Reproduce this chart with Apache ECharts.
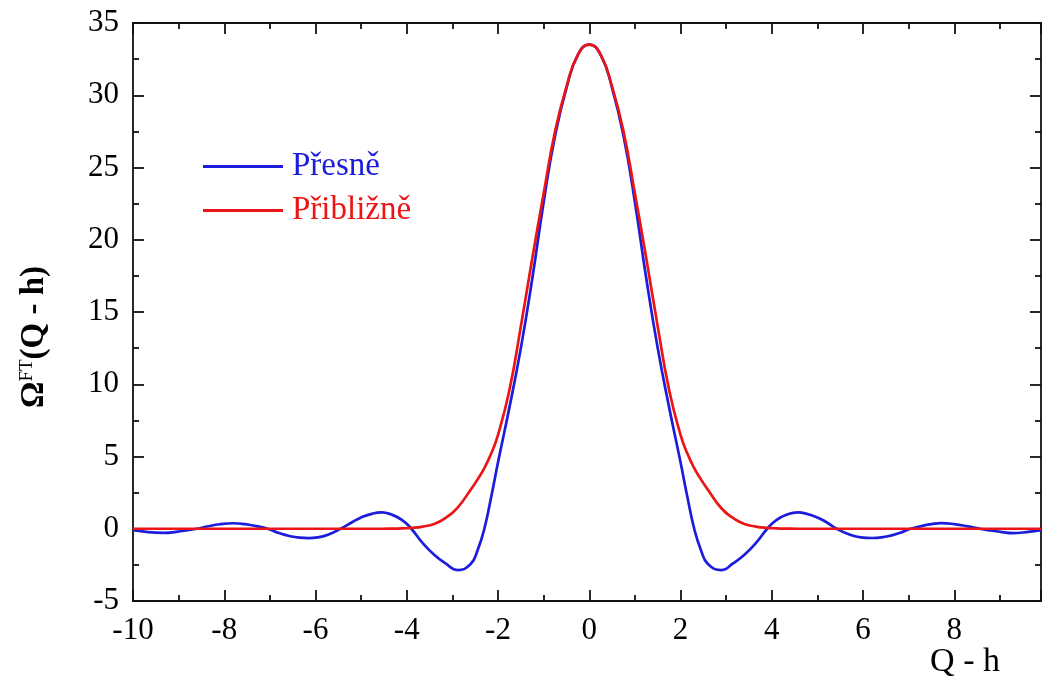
<!DOCTYPE html>
<html>
<head>
<meta charset="utf-8">
<script src="https://cdn.jsdelivr.net/npm/echarts@6/dist/echarts.min.js"></script>
<style>html,body{margin:0;padding:0;background:#fff}#c{width:1044px;height:682px}</style>
</head>
<body>
<div id="c"></div>
<script>
var xs = [-10, -9.75, -9.5, -9.3, -9.05, -8.8, -8.6, -8.35, -8.1, -7.8, -7.55, -7.3, -7.05, -6.8, -6.55, -6.35, -6.15, -5.95, -5.7, -5.45,
          -5.2, -5, -4.75, -4.55, -4.35, -4.1, -3.9, -3.65, -3.4, -3.15, -2.89, -2.6, -2.45, -2.3, -2.15, -2, -1.75, -1.5, -1.25, -1, -0.75, -0.5, -0.25, 0,
          0.25, 0.5, 0.75, 1, 1.25, 1.5, 1.75, 2, 2.15, 2.3, 2.45, 2.6, 2.9, 3.15, 3.4, 3.65, 3.9, 4.1, 4.35, 4.57, 4.75, 5, 5.2,
          5.42, 5.7, 5.95, 6.2, 6.4, 6.6, 6.8, 7.04, 7.3, 7.5, 7.72, 8, 8.3, 8.56, 8.8, 9.05, 9.28, 9.5, 9.75, 9.9];
var presne = [-0.1, -0.2, -0.27, -0.28, -0.21, -0.1, 0, 0.17, 0.31, 0.38, 0.32, 0.18, 0, -0.3, -0.52, -0.62, -0.65, -0.6, -0.38, 0,
              0.45, 0.78, 1.05, 1.13, 1.0, 0.6, 0, -1.0, -1.8, -2.4, -2.86, -2.44, -1.5, 0, 2.2, 4.6, 8.4, 12.5, 17.3, 22.6, 27.2, 30.5, 32.8, 33.5,
              32.8, 30.5, 27.2, 22.6, 17.3, 12.5, 8.4, 4.6, 2.2, 0, -1.5, -2.44, -2.86, -2.4, -1.8, -1.0, 0, 0.6, 1.0, 1.13, 1.05, 0.78, 0.45,
              0, -0.4, -0.6, -0.64, -0.6, -0.48, -0.3, 0, 0.2, 0.32, 0.39, 0.32, 0.16, 0, -0.12, -0.23, -0.3, -0.26, -0.16, -0.09];
var priblizne = [0, 0, 0, 0, 0, 0, 0, 0, 0, 0, 0, 0, 0, 0, 0, 0, 0, 0, 0, 0,
                 0, 0, 0, 0, 0.01, 0.03, 0.06, 0.15, 0.33, 0.75, 1.45, 2.7, 3.4, 4.2, 5.2, 6.5, 9.6, 14.0, 18.7, 23.2, 27.5, 30.6, 32.8, 33.5,
                 32.8, 30.6, 27.5, 23.2, 18.7, 14.0, 9.6, 6.5, 5.2, 4.2, 3.4, 2.7, 1.4, 0.75, 0.33, 0.15, 0.06, 0.03, 0.01, 0, 0, 0, 0,
                 0, 0, 0, 0, 0, 0, 0, 0, 0, 0, 0, 0, 0, 0, 0, 0, 0, 0, 0, 0];
var seriesNames = ['Přesně', 'Přibližně'];
var colors = ['#1c1cdc', '#ec1515'];

function pairs(ys){ return xs.map(function(x,i){ return [x, ys[i]]; }); }

var font = '"Liberation Serif", "Times New Roman", serif';
var chart = echarts.init(document.getElementById('c'));
var axLine = {show:true, onZero:false, lineStyle:{color:'#111', width:1.8}};
var tick = {show:true, inside:true, length:11, lineStyle:{color:'#111', width:1.8}};
var minor = {show:true, splitNumber:2, length:6, lineStyle:{color:'#111', width:1.8}};
chart.setOption({
  animation:false,
  grid:{left:133, top:23, width:915, height:578},
  legend:{
    left:203, top:150, padding:0, orient:'vertical', icon:'rect', itemWidth:80, itemHeight:3, itemGap:11,
    data:[{name:seriesNames[0], textStyle:{color:colors[0]}}, {name:seriesNames[1], textStyle:{color:colors[1]}}],
    textStyle:{fontFamily:font, fontSize:33, padding:[0,0,0,4]}
  },
  graphic:[{type:'text', right:44, bottom:3, style:{text:'Q - h', fontFamily:font, fontSize:34, fill:'#000'}}],
  xAxis:[{
    type:'value', min:-10, max:9.9, interval:2,
    axisLine:axLine, axisTick:tick, minorTick:minor, splitLine:{show:false},
    axisLabel:{fontFamily:font, fontSize:31, color:'#000', margin:14,
      formatter:function(v){ return (Math.abs(v-Math.round(v))<1e-9 && Math.round(v)%2===0) ? String(v) : ''; }}
  },{
    type:'value', position:'top', min:-10, max:9.9, interval:2,
    axisLine:axLine, axisTick:tick, minorTick:minor, splitLine:{show:false}, axisLabel:{show:false}
  }],
  yAxis:[{
    type:'value', min:-5, max:35, interval:5,
    axisLine:axLine, axisTick:tick, minorTick:minor, splitLine:{show:false},
    axisLabel:{fontFamily:font, fontSize:31, color:'#000', margin:14},
    name:'{o|Ω}{s|FT}{b|(Q - h)}', nameLocation:'middle', nameGap:82,
    nameTextStyle:{padding:[0,50,0,0], rich:{
      o:{fontFamily:font, fontSize:33, fontWeight:'bold', color:'#000'},
      s:{fontFamily:font, fontSize:19, color:'#000', verticalAlign:'top', padding:[0,0,14,0]},
      b:{fontFamily:font, fontSize:33, fontWeight:'bold', color:'#000'}
    }}
  },{
    type:'value', position:'right', min:-5, max:35, interval:5,
    axisLine:axLine, axisTick:tick, minorTick:minor, splitLine:{show:false}, axisLabel:{show:false}
  }],
  series:[
    {name:seriesNames[0], type:'line', data:pairs(presne), smooth:0.5, symbol:'none', lineStyle:{color:colors[0], width:2.7}, itemStyle:{color:colors[0]}},
    {name:seriesNames[1], type:'line', data:pairs(priblizne), smooth:0.5, symbol:'none', lineStyle:{color:colors[1], width:2.7}, itemStyle:{color:colors[1]}}
  ]
});
</script>
</body>
</html>
